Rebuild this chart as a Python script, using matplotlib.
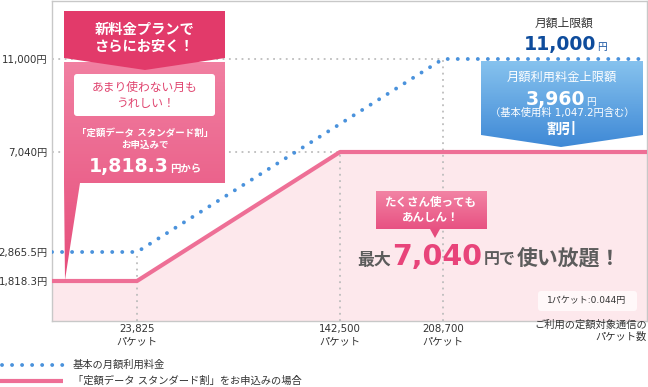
import numpy as np
import matplotlib
matplotlib.use("Agg")
import matplotlib.pyplot as plt
from matplotlib.patches import Polygon, FancyBboxPatch
from matplotlib.colors import LinearSegmentedColormap

# DejaVu first for the wide latin digits, Noto CJK for the Japanese glyphs
plt.rcParams['font.family'] = ['DejaVu Sans', 'Noto Sans CJK JP']

# data
packets_basic = [0, 23825, 208700, 300000]
fee_basic = [2865.5, 2865.5, 11000, 11000]
packets_disc = [0, 23825, 142500, 300000]
fee_disc = [1818.3, 1818.3, 7040, 7040]

y_ticks = [1818.3, 2865.5, 7040, 11000]
y_labels = ['1,818.3円', '2,865.5円', '7,040円', '11,000円']
x_ticks = [23825, 142500, 208700]
x_labels = ['23,825\nパケット', '142,500\nパケット', '208,700\nパケット']

# the original chart is schematic, not linear: piecewise scale anchors
XV = [0, 23825, 142500, 208700, 300000]
XP = [52, 137, 340, 443, 647]
YV = [0, 1818.3, 2865.5, 7040, 11000, 13000]
YP = [-321, -281, -252, -152, -59, -1]

PINK = '#ee6f96'
BLUE = '#4a92dc'
GRID = '#bdbdbd'
TXT = '#333333'
GRAY = '#5c5c5c'

W, H = 648, 387
fig = plt.figure(figsize=(W / 100, H / 100), dpi=100)
ax = fig.add_axes([52 / W, (H - 321) / H, (647 - 52) / W, 320 / H])

ax.set_xscale('function', functions=(lambda v: np.interp(v, XV, XP),
                                     lambda p: np.interp(p, XP, XV)))
ax.set_yscale('function', functions=(lambda v: np.interp(v, YV, YP),
                                     lambda p: np.interp(p, YP, YV)))
ax.set_xlim(0, 300000)
ax.set_ylim(0, 13000)

dot = (0, (1, 2.5))
ax.plot([0, 208700], [11000, 11000], color=GRID, lw=1.3, ls=dot, zorder=1)
ax.plot([0, 142500], [7040, 7040], color=GRID, lw=1.3, ls=dot, zorder=1)
ax.plot([23825, 23825], [0, 2865.5], color=GRID, lw=1.3, ls=dot, zorder=1)
ax.plot([142500, 142500], [0, 7040], color=GRID, lw=1.3, ls=dot, zorder=1)
ax.plot([208700, 208700], [0, 11000], color=GRID, lw=1.3, ls=dot, zorder=1)

ax.fill_between(packets_disc, fee_disc, 0, color='#fde8ec', lw=0, zorder=0)
ax.plot(packets_disc, fee_disc, color=PINK, lw=3, solid_capstyle='butt', zorder=3)
ax.plot(packets_basic, fee_basic, color=BLUE, lw=2.8, ls=(0, (0.01, 2.57)),
        dash_capstyle='round', zorder=4)

ax.set_yticks(y_ticks, y_labels)
ax.set_xticks(x_ticks, x_labels)
ax.minorticks_off()
ax.tick_params(length=0, labelsize=7.4, colors=TXT, pad=3)
ax.tick_params(axis='x', pad=2)
for lab in ax.get_xticklabels():
    lab.set_linespacing(1.25)
for s in ax.spines.values():
    s.set_color('#c8c8c8')
    s.set_linewidth(1)

# overlay in pixel coordinates for the callouts
ov = fig.add_axes([0, 0, 1, 1])
ov.set_xlim(0, W)
ov.set_ylim(H, 0)
ov.axis('off')
renderer = fig.canvas.get_renderer()


def grad_poly(verts, c_top, c_bot, z=5):
    poly = Polygon(verts, closed=True, fc='none', ec='none', zorder=z)
    ov.add_patch(poly)
    xs = [v[0] for v in verts]
    ys = [v[1] for v in verts]
    cmap = LinearSegmentedColormap.from_list('g', [c_top, c_bot])
    im = ov.imshow(np.linspace(0, 1, 64).reshape(-1, 1), cmap=cmap, aspect='auto',
                   extent=(min(xs), max(xs), max(ys), min(ys)), origin='upper', zorder=z)
    im.set_clip_path(poly)


def chain(parts, x, y, center=False, gap=0):
    # parts: (text, size, color, weight) written one after another on a baseline
    arts = []
    cx = x
    for s, fs, c, w in parts:
        t = ov.text(cx, y, s, fontsize=fs, color=c, fontweight=w,
                    ha='left', va='baseline', zorder=7)
        cx += t.get_window_extent(renderer=renderer).width + gap
        arts.append(t)
    if center:
        shift = (cx - gap - x) / 2
        for t in arts:
            t.set_x(t.get_position()[0] - shift)


# left callout
grad_poly([(64, 62), (225, 62), (225, 183), (80, 183), (65, 280), (64, 183)],
          '#f17fa1', '#e64d7b')
ov.add_patch(Polygon([(64, 11), (225, 11), (225, 58), (145, 70), (64, 58)],
                     closed=True, fc='#e23a6a', ec='none', zorder=6))
ov.text(145, 38, '新料金プランで\nさらにお安く！', color='white', fontsize=10.3,
        fontweight='bold', ha='center', va='center', linespacing=1.25, zorder=7)
ov.add_patch(FancyBboxPatch((74, 74), 141, 42, boxstyle='round,pad=0,rounding_size=3',
                            fc='white', ec='none', zorder=6))
ov.text(145, 95, 'あまり使わない月も\nうれしい！', color='#e0446f', fontsize=8.5,
        ha='center', va='center', linespacing=1.3, zorder=7)
ov.text(145, 139, '「定額データ スタンダード割」\nお申込みで', color='white', fontsize=6.8,
        fontweight='bold', ha='center', va='center', linespacing=1.3, zorder=7)
chain([('1,818.3', 13.6, 'white', 'bold'), ('円から', 7.5, 'white', 'bold')],
      145, 172, center=True, gap=1)

# right callout
ov.text(564, 23, '月額上限額', color=TXT, fontsize=8.5, ha='center', va='center')
chain([('11,000', 13.6, '#0e4c9c', 'bold'), ('円', 7, '#0e4c9c', 'normal')],
      565, 50, center=True, gap=1)
grad_poly([(481, 61), (643, 61), (643, 135), (561, 147), (481, 135)],
          '#86c2ee', '#3f89d6')
ov.text(562, 77, '月額利用料金上限額', color='white', fontsize=8.8,
        ha='center', va='center', zorder=7)
chain([('3,960', 13.6, 'white', 'bold'), ('円', 7, 'white', 'normal')],
      561, 105, center=True, gap=1)
ov.text(562, 113, '（基本使用料 1,047.2円含む）', color='white', fontsize=7.4,
        ha='center', va='center', zorder=7)
ov.text(562, 129, '割引', color='white', fontsize=11, fontweight='bold',
        ha='center', va='center', zorder=7)

# middle callout
grad_poly([(376, 191), (487, 191), (487, 229), (440, 229), (435, 238),
           (430, 229), (376, 229)], '#f283a4', '#e5467a')
ov.text(431, 210, 'たくさん使っても\nあんしん！', color='white', fontsize=8.3,
        fontweight='bold', ha='center', va='center', linespacing=1.2, zorder=7)

chain([('最大', 12.2, GRAY, 'bold'), ('7,040', 20.5, '#e8447a', 'bold'),
       ('円で', 11.5, GRAY, 'bold'), ('使い放題！', 15, GRAY, 'bold')],
      357, 265, gap=1.5)

ov.add_patch(FancyBboxPatch((538, 291), 99, 20, boxstyle='round,pad=0,rounding_size=3',
                            fc='#fff8f9', ec='none', zorder=6))
ov.text(587, 301, '1パケット:0.044円', color=TXT, fontsize=6.5, ha='center',
        va='center', zorder=7)

ov.text(647, 331, 'ご利用の定額対象通信の\nパケット数', color=TXT, fontsize=7.4,
        ha='right', va='center', linespacing=1.25)

# legend
ov.plot([2, 63], [365, 365], color=BLUE, lw=2.8, ls=(0, (0.01, 2.57)),
        dash_capstyle='round')
ov.text(73, 365, '基本の月額利用料金', color=TXT, fontsize=7.4, va='center')
ov.plot([0, 63], [381, 381], color=PINK, lw=3, solid_capstyle='butt')
ov.text(73, 381, '「定額データ スタンダード割」をお申込みの場合', color=TXT,
        fontsize=7.4, va='center')
ov.set_xlim(0, W)
ov.set_ylim(H, 0)

fig.savefig('out.png', dpi=100)
